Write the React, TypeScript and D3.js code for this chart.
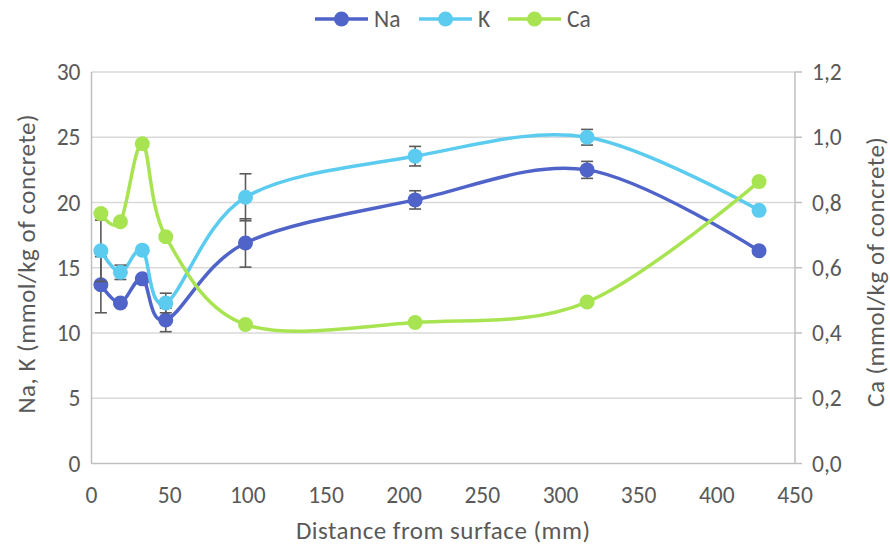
import React from 'react';
import * as d3 from 'd3';

// distances (mm) and concentrations
const depths = [6, 18.5, 32.5, 47.5, 98.5, 207, 317, 427];
const naValues = [13.7, 12.3, 14.15, 11.0, 16.9, 20.2, 22.5, 16.3];
const kValues = [16.3, 14.65, 16.35, 12.3, 20.4, 23.55, 25.0, 19.4];
const caValues = [0.766, 0.741, 0.98, 0.695, 0.426, 0.432, 0.495, 0.864];
const naErrors = [2.15, 0, 0, 0.9, 1.85, 0.7, 0.65, 0];
const kErrors = [2.35, 0.55, 0, 0.75, 1.8, 0.75, 0.6, 0];

const xTicks = [0, 50, 100, 150, 200, 250, 300, 350, 400, 450];
const leftTicks = [0, 5, 10, 15, 20, 25, 30];
const rightTicks = [0, 0.2, 0.4, 0.6, 0.8, 1.0, 1.2];

const NA_COLOR = '#4f63c9';
const K_COLOR = '#5bcbf0';
const CA_COLOR = '#a8e451';
const FONT = "Carlito, Calibri, Lato, sans-serif";
const TEXT = '#595959';
const FS = 23.5;
const TITLE_FS = 25;

const W = 890;
const H = 549;
const plot = { left: 91.5, right: 795, top: 72, bottom: 463.5 };

const App = () => {
  const x = d3.scaleLinear().domain([0, 450]).range([plot.left, plot.right]);
  const yLeft = d3.scaleLinear().domain([0, 30]).range([plot.bottom, plot.top]);
  const yRight = d3.scaleLinear().domain([0, 1.2]).range([plot.bottom, plot.top]);

  const makeLine = (scale) =>
    d3.line<number>()
      .x((_, i) => x(depths[i]))
      .y((d) => scale(d))
      .curve(d3.curveCardinal.tension(0));

  const series = [
    { name: 'Na', values: naValues, errors: naErrors, color: NA_COLOR, scale: yLeft },
    { name: 'K', values: kValues, errors: kErrors, color: K_COLOR, scale: yLeft },
    { name: 'Ca', values: caValues, errors: null, color: CA_COLOR, scale: yRight },
  ];

  const legendX = [315, 419, 508];

  return (
    <svg width={W} height={H} style={{ position: 'absolute', left: 0, top: 0, background: '#fff' }} fontFamily={FONT}>
      {/* grid */}
      {leftTicks.filter((t) => t > 0).map((t) => (
        <line key={t} x1={plot.left} x2={plot.right} y1={yLeft(t)} y2={yLeft(t)} stroke="#d9d9d9" strokeWidth={1.5} />
      ))}
      {/* axes */}
      <line x1={plot.left} x2={plot.right} y1={plot.bottom} y2={plot.bottom} stroke="#bfbfbf" strokeWidth={1.5} />
      <line x1={plot.left} x2={plot.left} y1={plot.top} y2={plot.bottom} stroke="#bfbfbf" strokeWidth={1.5} />
      <line x1={plot.right} x2={plot.right} y1={plot.top} y2={plot.bottom} stroke="#bfbfbf" strokeWidth={1.5} />
      {rightTicks.map((t) => (
        <line key={t} x1={plot.right} x2={plot.right + 7} y1={yRight(t)} y2={yRight(t)} stroke="#bfbfbf" strokeWidth={1.5} />
      ))}

      {/* tick labels */}
      {leftTicks.map((t) => (
        <text key={t} x={plot.left - 11} y={yLeft(t)} dy="0.35em" textAnchor="end" fontSize={FS} fill={TEXT}>{t}</text>
      ))}
      {rightTicks.map((t) => (
        <text key={t} x={plot.right + 17} y={yRight(t)} dy="0.35em" textAnchor="start" fontSize={FS} fill={TEXT}>
          {t.toFixed(1).replace('.', ',')}
        </text>
      ))}
      {xTicks.map((t) => (
        <text key={t} x={x(t)} y={503} textAnchor="middle" fontSize={FS} fill={TEXT}>{t}</text>
      ))}

      {/* axis titles */}
      <text x={(plot.left + plot.right) / 2} y={539} textAnchor="middle" fontSize={TITLE_FS} letterSpacing={0.5} fill={TEXT}>Distance from surface (mm)</text>
      <text transform={`translate(35, ${(plot.top + plot.bottom) / 2 - 4}) rotate(-90)`} textAnchor="middle" fontSize={TITLE_FS} letterSpacing={0.5} fill={TEXT}>
        Na, K (mmol/kg of concrete)
      </text>
      <text transform={`translate(884, ${(plot.top + plot.bottom) / 2 + 4}) rotate(-90)`} textAnchor="middle" fontSize={TITLE_FS} letterSpacing={0.5} fill={TEXT}>
        Ca (mmol/kg of concrete)
      </text>

      {/* series */}
      {series.map((s) => (
        <g key={s.name}>
          <path d={makeLine(s.scale)(s.values) || ''} fill="none" stroke={s.color} strokeWidth={3.5} strokeLinecap="round" />
          {s.errors && s.values.map((v, i) => s.errors[i] > 0 && (
            <g key={i} stroke="#5a5a5a" strokeWidth={1.6}>
              <line x1={x(depths[i])} x2={x(depths[i])} y1={s.scale(v - s.errors[i])} y2={s.scale(v + s.errors[i])} />
              <line x1={x(depths[i]) - 6} x2={x(depths[i]) + 6} y1={s.scale(v - s.errors[i])} y2={s.scale(v - s.errors[i])} />
              <line x1={x(depths[i]) - 6} x2={x(depths[i]) + 6} y1={s.scale(v + s.errors[i])} y2={s.scale(v + s.errors[i])} />
            </g>
          ))}
          {s.values.map((v, i) => (
            <circle key={i} cx={x(depths[i])} cy={s.scale(v)} r={7.5} fill={s.color} />
          ))}
        </g>
      ))}

      {/* legend */}
      {series.map((s, i) => (
        <g key={s.name} transform={`translate(${legendX[i]}, 19)`}>
          <line x1={0} x2={53} y1={0} y2={0} stroke={s.color} strokeWidth={3.5} />
          <circle cx={26.5} cy={0} r={7.5} fill={s.color} />
          <text x={59} y={0} dy="0.35em" fontSize={FS} fill={TEXT}>{s.name}</text>
        </g>
      ))}
    </svg>
  );
};

export default App;
